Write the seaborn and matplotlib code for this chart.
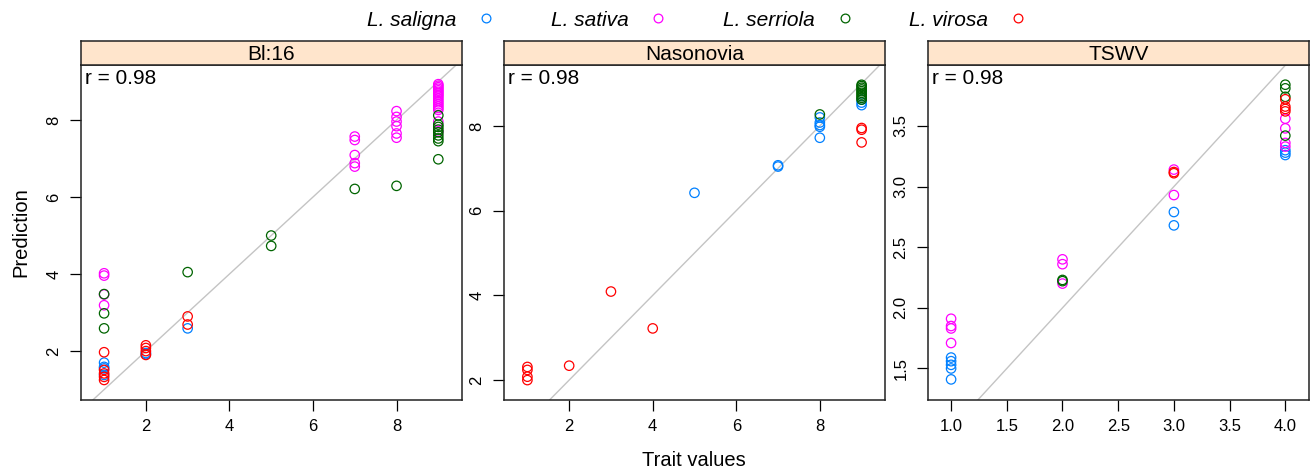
import numpy as np
import pandas as pd
import matplotlib
matplotlib.use("Agg")
import matplotlib.pyplot as plt
import seaborn as sns
from matplotlib.lines import Line2D

species = ["L. saligna", "L. sativa", "L. serriola", "L. virosa"]
species_colors = ["#0080ff", "#ff00ff", "#006400", "#ff0000"]
traits = ["Bl:16", "Nasonovia", "TSWV"]
r_values = [0.98, 0.98, 0.98]

# observed trait value -> predictions, one dict per panel and species
bl16_saligna = {1: [1.70, 1.59, 1.55, 1.38], 2: [1.95, 1.92], 3: [2.59]}
bl16_sativa = {1: [4.02, 3.96, 3.47, 3.19],
               7: [7.57, 7.48, 7.09, 6.88, 6.79],
               8: [8.23, 8.08, 7.96, 7.84, 7.65, 7.54],
               9: [8.93, 8.89, 8.85, 8.81, 8.77, 8.73, 8.69, 8.65, 8.61,
                   8.56, 8.51, 8.46, 8.41, 8.36, 8.31, 8.26, 7.96, 7.70]}
bl16_serriola = {1: [3.48, 2.98, 2.59], 3: [4.05], 5: [5.00, 4.73],
                 7: [6.21], 8: [6.29],
                 9: [8.12, 7.88, 7.82, 7.75, 7.68, 7.60, 7.52, 7.45, 6.98]}
bl16_virosa = {1: [1.97, 1.51, 1.42, 1.33, 1.25],
               2: [2.15, 2.08, 2.00, 1.90], 3: [2.90, 2.69]}

naso_saligna = {5: [6.42], 7: [7.07, 7.04],
                8: [8.20, 8.08, 8.02, 7.98, 7.72], 9: [8.62, 8.55, 8.49]}
naso_sativa = {}
naso_serriola = {8: [8.27],
                 9: [8.97, 8.94, 8.90, 8.86, 8.82, 8.78, 8.74, 8.70, 8.66, 8.62]}
naso_virosa = {1: [2.31, 2.24, 2.08, 2.00], 2: [2.34], 3: [4.09], 4: [3.22],
               9: [7.95, 7.91, 7.61]}

tswv_saligna = {1: [1.59, 1.56, 1.53, 1.50, 1.41], 3: [2.79, 2.68],
                4: [3.30, 3.28, 3.26]}
tswv_sativa = {1: [1.91, 1.85, 1.83, 1.71], 2: [2.40, 2.36, 2.20],
               3: [3.14, 2.93], 4: [3.56, 3.48, 3.36, 3.33]}
tswv_serriola = {2: [2.23, 2.22], 4: [3.84, 3.81, 3.74, 3.42]}
tswv_virosa = {3: [3.12, 3.11], 4: [3.72, 3.66, 3.64, 3.62]}

panel_data = {
    "Bl:16": [bl16_saligna, bl16_sativa, bl16_serriola, bl16_virosa],
    "Nasonovia": [naso_saligna, naso_sativa, naso_serriola, naso_virosa],
    "TSWV": [tswv_saligna, tswv_sativa, tswv_serriola, tswv_virosa],
}

x_ticks = [[2, 4, 6, 8], [2, 4, 6, 8], [1.0, 1.5, 2.0, 2.5, 3.0, 3.5, 4.0]]
y_ticks = [[2, 4, 6, 8], [2, 4, 6, 8], [1.5, 2.0, 2.5, 3.0, 3.5]]
x_lims = [(0.44, 9.56), (0.44, 9.56), (0.79, 4.21)]
y_lims = [(0.73, 9.42), (1.53, 9.43), (1.24, 4.00)]

rows = []
for trait in traits:
    for sp, d in zip(species, panel_data[trait]):
        for tv, preds in d.items():
            for p in preds:
                rows.append({"trait": trait, "species": sp, "value": tv, "pred": p})
df = pd.DataFrame(rows)

sns.set_style("white")
plt.rcParams["font.family"] = ["Liberation Sans", "DejaVu Sans"]
plt.rcParams["text.color"] = "black"
plt.rcParams["axes.labelcolor"] = "black"
plt.rcParams["xtick.color"] = "black"
plt.rcParams["ytick.color"] = "black"

W, H = 1310, 472
fig = plt.figure(figsize=(W / 100, H / 100), dpi=100)
palette = dict(zip(species, species_colors))

lefts = [80.7, 504.0, 927.7]
pw, top, bottom, strip_top = 381.0, 65.3, 400.0, 40.7

for i, trait in enumerate(traits):
    left = lefts[i]
    ax = fig.add_axes([left / W, (H - bottom) / H, pw / W, (bottom - top) / H])
    strip = fig.add_axes([left / W, (H - top) / H, pw / W, (top - strip_top) / H])

    ax.axline((0, 0), slope=1, color="#c4c4c4", lw=1.0, zorder=1)
    sub = df[df["trait"] == trait]
    sns.scatterplot(data=sub, x="value", y="pred", hue="species",
                    hue_order=species, palette=palette, s=46,
                    linewidth=0.9, legend=False, ax=ax, zorder=3)
    pts = ax.collections[-1]
    pts.set_edgecolors(pts.get_facecolors())
    pts.set_facecolors("none")

    ax.set_xlim(*x_lims[i])
    ax.set_ylim(*y_lims[i])
    ax.set_xticks(x_ticks[i])
    ax.set_yticks(y_ticks[i])
    ax.set_xlabel("")
    ax.set_ylabel("")
    ax.tick_params(direction="out", length=8, width=0.9, labelsize=12,
                   pad=6, colors="black", top=False, right=False,
                   bottom=True, left=True)
    ax.tick_params(axis="y", labelrotation=90)
    for lab in ax.get_yticklabels():
        lab.set_va("center")
    for sp in ax.spines.values():
        sp.set_color("#222222")
        sp.set_linewidth(1.1)

    ax.text(0.011, 0.99, f"r = {r_values[i]:.2f}", transform=ax.transAxes,
            ha="left", va="top", fontsize=15)

    strip.set_facecolor("#ffe5cc")
    strip.set_xticks([])
    strip.set_yticks([])
    for sp in strip.spines.values():
        sp.set_color("#222222")
        sp.set_linewidth(1.1)
    strip.text(0.5, 0.45, trait, transform=strip.transAxes,
               ha="center", va="center", fontsize=15)

handles = [Line2D([], [], ls="", marker="o", mfc="none", mec=c, ms=6.3, mew=0.9)
           for c in species_colors]
leg = fig.legend(handles, species, loc="center", ncol=4, markerfirst=False,
                 bbox_to_anchor=(697.7 / W, (H - 20) / H), frameon=False,
                 handlelength=1.0, handletextpad=0.94, columnspacing=2.6,
                 borderpad=0, prop={"size": 15, "style": "italic"})

fig.text(694 / W, (H - 460) / H, "Trait values", ha="center", va="center",
         fontsize=14.5)
fig.text(20.5 / W, (H - 232) / H, "Prediction", ha="center", va="center",
         rotation=90, fontsize=14.5)

fig.savefig("out.png", dpi=100)
